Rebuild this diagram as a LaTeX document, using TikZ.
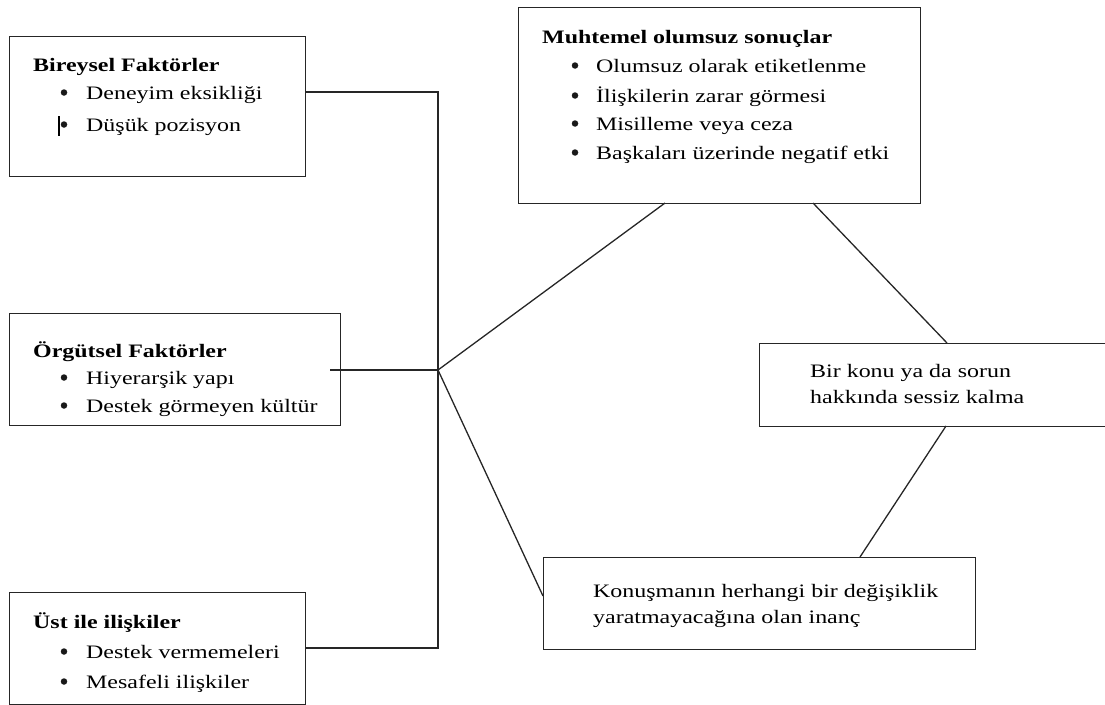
\documentclass[tikz,border=0pt]{standalone}
\usepackage{fontspec}
\setmainfont{Liberation Serif}[FakeStretch=1.26]
\begin{document}
\begin{tikzpicture}[x=1pt,y=-1pt,
  box/.style={draw=black!85,line width=1.4pt,fill=none,inner sep=0pt,anchor=north west},
  link/.style={draw=black!85,line width=1.3pt},
  txt/.style={inner sep=0pt,anchor=base west,font=\fontsize{19}{23}\selectfont},
  head/.style={txt,font=\fontsize{19}{23}\selectfont\bfseries},
  dot/.style={circle,fill=black!90,inner sep=0pt,minimum size=6.5pt,yshift=6.5pt}]
\useasboundingbox (0,0) rectangle (1105,704);

% boxes
\node[box,minimum width=296pt,minimum height=140pt] (bir) at (9,36) {};
\node[box,minimum width=331pt,minimum height=112pt] (org) at (9,313) {};
\node[box,minimum width=296pt,minimum height=112pt] (ust) at (9,592) {};
\node[box,minimum width=402pt,minimum height=196pt] (muh) at (518,7) {};
\node[box,minimum width=360pt,minimum height=83pt] (ses) at (759,343) {};
\node[box,minimum width=432pt,minimum height=92pt] (kon) at (543,557) {};

% junction points
\coordinate (jtop) at (438,92);
\coordinate (hub) at (438,370);
\coordinate (jbot) at (438,648);
\coordinate (orgin) at (330,370);
\coordinate (muhL) at (665,203);
\coordinate (muhR) at (813,203);
\coordinate (sesT) at (947,343);
\coordinate (sesB) at (946,426);
\coordinate (konT) at (860,557);
\coordinate (konL) at (543,596);

% connectors
\draw[link] (bir.east |- jtop) -- (jtop) -- (hub) -- (jbot) -- (ust.east |- jbot);
\draw[link] (orgin) -- (hub);
\draw[link] (hub) -- (muhL);
\draw[link] (hub) -- (konL);
\draw[link] (muhR) -- (sesT);
\draw[link] (sesB) -- (konT);

% individual factors
\node[head] (h1) at (33,71) {Bireysel Faktörler};
\node[dot] (b11) at (64,99) {};
\node[txt] (t11) at (86,99) {Deneyim eksikliği};
\node[dot] (b12) at (64,131) {};
\node[txt] (t12) at (86,131) {Düşük pozisyon};
\draw[line width=1.1pt] (59,116) -- (59,136);

% organisational factors
\node[head] (h2) at (33,357) {Örgütsel Faktörler};
\node[dot] (b21) at (64,384) {};
\node[txt] (t21) at (86,384) {Hiyerarşik yapı};
\node[dot] (b22) at (64,412) {};
\node[txt] (t22) at (86,412) {Destek görmeyen kültür};

% relations with superiors
\node[head] (h3) at (33,628) {Üst ile ilişkiler};
\node[dot] (b31) at (64,658) {};
\node[txt] (t31) at (86,658) {Destek vermemeleri};
\node[dot] (b32) at (64,688) {};
\node[txt] (t32) at (86,688) {Mesafeli ilişkiler};

% possible negative outcomes
\node[head] (h4) at (542,43) {Muhtemel olumsuz sonuçlar};
\node[dot] (b41) at (575,72) {};
\node[txt] (t41) at (596,72) {Olumsuz olarak etiketlenme};
\node[dot] (b42) at (575,102) {};
\node[txt] (t42) at (596,102) {İlişkilerin zarar görmesi};
\node[dot] (b43) at (575,130) {};
\node[txt] (t43) at (596,130) {Misilleme veya ceza};
\node[dot] (b44) at (575,159) {};
\node[txt] (t44) at (596,159) {Başkaları üzerinde negatif etki};

% silence
\node[txt] (t51) at (810,377) {Bir konu ya da sorun};
\node[txt] (t52) at (810,403) {hakkında sessiz kalma};

% belief
\node[txt] (t61) at (593,597) {Konuşmanın herhangi bir değişiklik};
\node[txt] (t62) at (593,623) {yaratmayacağına olan inanç};
\end{tikzpicture}
\end{document}
